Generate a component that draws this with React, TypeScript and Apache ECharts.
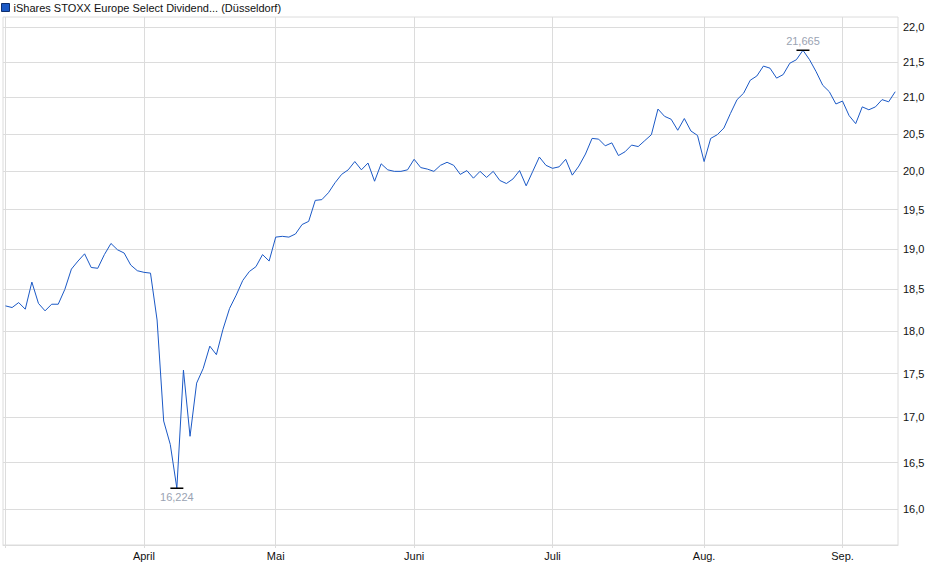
import React, { useEffect, useRef } from 'react';
import * as echarts from 'echarts';

const seriesName = 'iShares STOXX Europe Select Dividend... (Düsseldorf)';

// month labels shown at the first trading day of each month (March has no label)
const monthLabels = ['', 'April', 'Mai', 'Juni', 'Juli', 'Aug.', 'Sep.'];

// daily closing prices, one entry per trading day
const marchPrices = [18.3, 18.28, 18.34, 18.26, 18.59, 18.33, 18.24, 18.32, 18.32, 18.5, 18.75, 18.85, 18.94, 18.77, 18.76, 18.93, 19.07, 18.99, 18.95, 18.8, 18.73];
const aprilPrices = [18.71, 18.7, 18.13, 16.96, 16.7, 16.224, 17.54, 16.79, 17.39, 17.56, 17.82, 17.72, 18.02, 18.27, 18.43, 18.61, 18.72, 18.78, 18.93, 18.85];
const mayPrices = [19.15, 19.16, 19.15, 19.19, 19.31, 19.35, 19.62, 19.63, 19.72, 19.85, 19.96, 20.02, 20.13, 20.02, 20.11, 19.87, 20.1, 20.02, 20.0, 20.0, 20.02];
const junePrices = [20.16, 20.05, 20.03, 20.0, 20.08, 20.12, 20.08, 19.96, 20.01, 19.91, 20.0, 19.92, 20.0, 19.88, 19.84, 19.9, 20.01, 19.81, 20.0, 20.19, 20.08];
const julyPrices = [20.04, 20.06, 20.16, 19.95, 20.07, 20.23, 20.44, 20.43, 20.34, 20.38, 20.21, 20.26, 20.35, 20.33, 20.41, 20.49, 20.84, 20.74, 20.7, 20.55, 20.71, 20.54, 20.48];
const augustPrices = [20.13, 20.44, 20.49, 20.58, 20.78, 20.97, 21.06, 21.24, 21.3, 21.44, 21.41, 21.27, 21.32, 21.48, 21.53, 21.665, 21.53, 21.36, 21.17, 21.08, 20.91];
const septemberPrices = [20.95, 20.75, 20.64, 20.87, 20.83, 20.87, 20.97, 20.94, 21.08];

const yTicks = [16, 16.5, 17, 17.5, 18, 18.5, 19, 19.5, 20, 20.5, 21, 21.5, 22];
const yMin = 15.627;
const yMax = 22.146;

const monthPrices = [marchPrices, aprilPrices, mayPrices, junePrices, julyPrices, augustPrices, septemberPrices];
const prices = monthPrices.flat();
const monthStarts: number[] = [];
let count = 0;
monthPrices.forEach((m) => {
  monthStarts.push(count);
  count += m.length;
});

const fmt = (v: number, digits: number) => v.toFixed(digits).replace('.', ',');

const lineColor = '#1b59c6';
const gridColor = '#dcdcdc';
const font = '"Liberation Sans", Arial, sans-serif';

const PriceChart: React.FC = () => {
  const chartRef = useRef<HTMLDivElement>(null);

  useEffect(() => {
    document.body.style.margin = '0';
    if (!chartRef.current) return;
    const chart = echarts.init(chartRef.current, null, { renderer: 'svg' });

    // price scale is logarithmic: plot ln(price) on a value axis
    const logTicks = yTicks.map((t) => Math.log(t));

    const option: any = {
      animation: false,
      textStyle: { fontFamily: font },
      legend: {
        left: 0,
        top: 0,
        padding: [2, 0, 0, 1],
        icon: 'rect',
        itemWidth: 8,
        itemHeight: 8,
        itemStyle: { borderColor: '#0f2f6e', borderWidth: 1 },
        textStyle: { fontSize: 11, color: '#111', fontFamily: font, padding: [0, 0, 0, -1] },
        selectedMode: false,
        data: [seriesName],
      },
      grid: {
        left: 3,
        right: 42,
        top: 17,
        bottom: 34,
        show: true,
        borderColor: gridColor,
        borderWidth: 1,
        containLabel: false,
        outerBoundsMode: 'none',
      },
      xAxis: {
        type: 'value',
        min: -0.38,
        max: prices.length - 1 + 0.42,
        axisLine: { show: true, lineStyle: { color: gridColor } },
        axisTick: { show: true, length: 3, customValues: monthStarts, lineStyle: { color: gridColor } },
        splitLine: { show: true, lineStyle: { color: gridColor, width: 1 } },
        axisLabel: {
          customValues: monthStarts,
          fontSize: 11,
          color: '#111',
          margin: 5,
          fontFamily: font,
          formatter: (v: number) => {
            const k = monthStarts.indexOf(Math.round(v));
            return k >= 0 ? monthLabels[k] : '';
          },
        },
      },
      yAxis: {
        type: 'value',
        position: 'right',
        min: Math.log(yMin),
        max: Math.log(yMax),
        axisLine: { show: false },
        axisTick: { show: true, length: 3, customValues: logTicks, lineStyle: { color: gridColor } },
        splitLine: { show: true, lineStyle: { color: gridColor, width: 1 } },
        axisLabel: {
          customValues: logTicks,
          fontSize: 11,
          color: '#111',
          margin: 5,
          fontFamily: font,
          formatter: (v: number) => fmt(Math.exp(v), 1),
        },
      },
      series: [
        {
          name: seriesName,
          type: 'line',
          data: prices.map((p, i) => [i, Math.log(p)]),
          showSymbol: false,
          symbol: 'none',
          color: lineColor,
          lineStyle: { color: lineColor, width: 1 },
          emphasis: { disabled: true },
          markPoint: {
            symbol: 'rect',
            symbolSize: [13, 1.5],
            itemStyle: { color: '#000' },
            label: {
              show: true,
              fontSize: 11,
              color: '#9aa3b3',
              fontFamily: font,
              formatter: (p: any) => fmt(Math.exp(p.value), 3),
            },
            data: [
              { type: 'max', label: { position: 'top', distance: 3 } },
              { type: 'min', label: { position: 'bottom', distance: 3 } },
            ],
          },
        },
      ],
    };

    chart.setOption(option);

    const handleResize = () => chart.resize();
    window.addEventListener('resize', handleResize);

    return () => {
      window.removeEventListener('resize', handleResize);
      chart.dispose();
    };
  }, []);

  return <div ref={chartRef} style={{ position: 'absolute', left: 0, top: 0, width: 940, height: 579 }} />;
};

export default function App() {
  return <PriceChart />;
}
